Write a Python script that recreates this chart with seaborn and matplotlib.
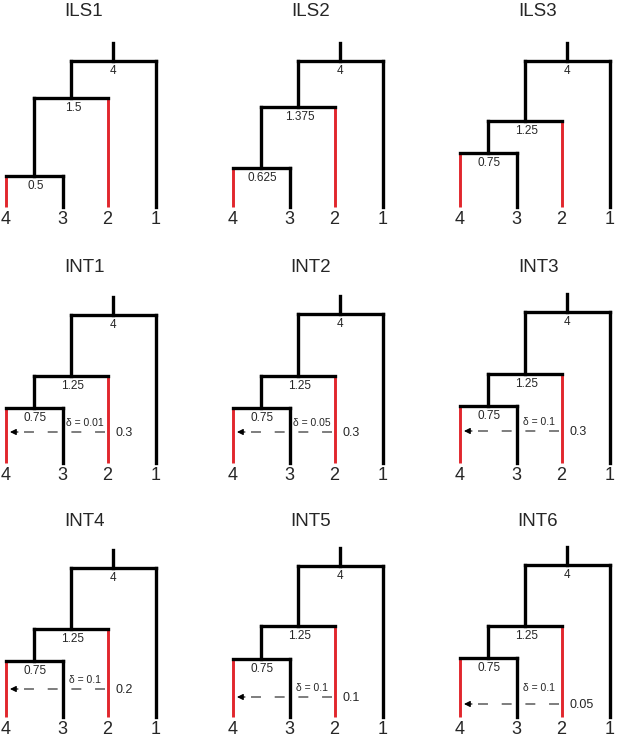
import numpy as np
import pandas as pd
import matplotlib
matplotlib.use("Agg")
import matplotlib.pyplot as plt
import seaborn as sns

# ---------------- data ----------------
titles = ["ILS1", "ILS2", "ILS3", "INT1", "INT2", "INT3", "INT4", "INT5", "INT6"]
root_labels = ["4", "4", "4", "4", "4", "4", "4", "4", "4"]
mid_labels = ["1.5", "1.375", "1.25", "1.25", "1.25", "1.25", "1.25", "1.25", "1.25"]
low_labels = ["0.5", "0.625", "0.75", "0.75", "0.75", "0.75", "0.75", "0.75", "0.75"]
deltas = [None, None, None, "0.01", "0.05", "0.1", "0.1", "0.1", "0.1"]
intro_times = [None, None, None, "0.3", "0.3", "0.3", "0.2", "0.1", "0.05"]
tip_names = ["4", "3", "2", "1"]
red_tips = ["4", "2"]

# ---------------- layout (schematic drawing heights, px above tips) ----------------
col_x0 = [6, 233, 460]
row_base = [207, 463, 717]
tip_dx = [0, 56.5, 101.5, 150]
draw_root_h = [146, 146, 146, 148, 149, 151, 149, 151, 152]
draw_mid_h = [109, 100, 86, 87, 87, 89, 88, 91, 91]
draw_low_h = [31, 39, 54, 55, 55, 57, 56, 58, 59]
draw_intro_h = [np.nan, np.nan, np.nan, 31, 31, 32, 28, 20, 13]
stub_h = 18

RED = "#E1262D"
BLACK = "#000000"
DASH = "#5a5a5a"

sns.set_theme(style="white")
plt.rcParams["font.family"] = ["Liberation Sans", "DejaVu Sans"]

fig = plt.figure(figsize=(6.17, 7.38), dpi=100)
ax = fig.add_axes([0, 0, 1, 1])

rows = []
seg_id = 0


def add_seg(x1, y1, x2, y2, color):
    global seg_id
    rows.append(dict(seg=seg_id, x=x1, y=y1, color=color))
    rows.append(dict(seg=seg_id, x=x2, y=y2, color=color))
    seg_id += 1


for i, title in enumerate(titles):
    r, c = divmod(i, 3)
    x0 = col_x0[c]
    base = row_base[r]
    tx = [x0 + d for d in tip_dx]
    t4, t3, t2, t1 = tx
    yl = base - draw_low_h[i]
    ym = base - draw_mid_h[i]
    yr = base - draw_root_h[i]
    xl = (t4 + t3) / 2
    xm = (xl + t2) / 2
    xr = (xm + t1) / 2

    col = {n: (RED if n in red_tips else BLACK) for n in tip_names}
    add_seg(t4, base, t4, yl, col["4"])
    add_seg(t3, base, t3, yl, col["3"])
    add_seg(t4, yl, t3, yl, BLACK)
    add_seg(xl, yl, xl, ym, BLACK)
    add_seg(t2, base, t2, ym, col["2"])
    add_seg(xl, ym, t2, ym, BLACK)
    add_seg(xm, ym, xm, yr, BLACK)
    add_seg(t1, base, t1, yr, col["1"])
    add_seg(xm, yr, t1, yr, BLACK)
    add_seg(xr, yr, xr, yr - stub_h, BLACK)

    # titles
    ax.text((t4 + t1) / 2 + 3, base - 195, title, ha="center", va="center",
            fontsize=13.5)
    # tip labels
    for n, x in zip(tip_names, tx):
        ax.text(x, base + 12, n, ha="center", va="center", fontsize=13)
    # node labels
    ax.text(xr, yr + 10, root_labels[i], ha="center", va="center", fontsize=8.5)
    ax.text(xm + 2, ym + 10, mid_labels[i], ha="center", va="center", fontsize=8.5)
    ax.text(xl + 1, yl + 10, low_labels[i], ha="center", va="center", fontsize=8.5)

    if deltas[i] is not None:
        yi = base - draw_intro_h[i]
        ax.plot([t2 - 3, t4 + 12], [yi, yi], color=DASH, lw=1.1,
                linestyle=(0, (6.5, 9)), zorder=1)
        ax.annotate("", xy=(t4 + 4, yi), xytext=(t4 + 12, yi),
                    arrowprops=dict(arrowstyle="-|>", color="black", lw=0.8,
                                    mutation_scale=9, shrinkA=0, shrinkB=0),
                    zorder=1)
        ly = base - max(draw_intro_h[i], 20) - 9
        ax.text((t3 + t2) / 2, ly, "\u03b4 = " + deltas[i], ha="center",
                va="center", fontsize=7.5)
        ax.text(t2 + 8, yi + 1, intro_times[i], ha="left", va="center",
                fontsize=9)

df = pd.DataFrame(rows)
red_df = df[df["color"] == RED]
black_df = df[df["color"] == BLACK]

sns.lineplot(data=red_df, x="x", y="y", units="seg", estimator=None, sort=False,
             color=RED, linewidth=2.1, solid_capstyle="butt", ax=ax, zorder=2)
sns.lineplot(data=black_df, x="x", y="y", units="seg", estimator=None, sort=False,
             color=BLACK, linewidth=2.4, solid_capstyle="projecting", ax=ax,
             zorder=3)

ax.set_xlim(0, 617)
ax.set_ylim(738, 0)
ax.axis("off")

fig.savefig("out.png", dpi=100, facecolor="white")
